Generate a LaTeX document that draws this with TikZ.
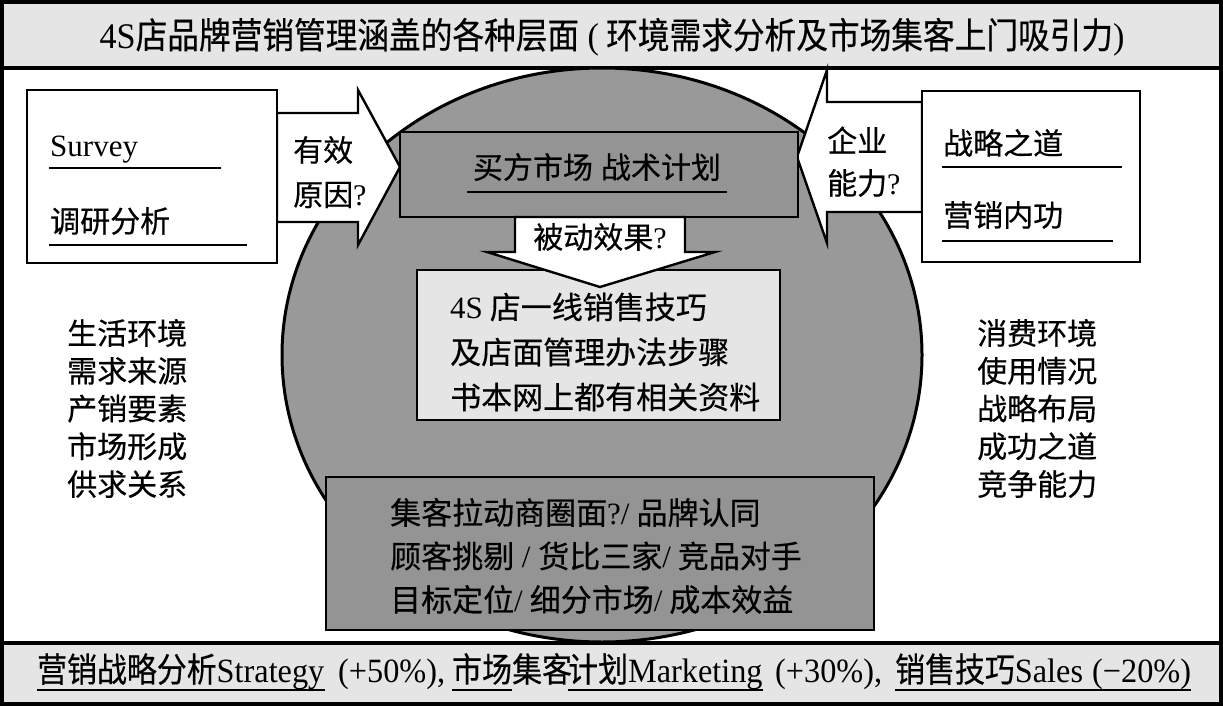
\documentclass[tikz,border=0pt]{standalone}
\usepackage{fontspec}
\setmainfont[FakeBold=0.4]{Noto Sans CJK SC}
\newfontfamily\latf{Liberation Serif}
\newfontfamily\cjkc[FakeStretch=0.88,FakeBold=0.4]{Noto Sans CJK SC}
\newfontfamily\latc[FakeStretch=0.95]{Liberation Serif}
\newcommand\en[1]{{\latf #1}}
\newcommand\enc[1]{{\latc #1}}
\usetikzlibrary{calc,shapes.geometric}
\definecolor{lightbg}{gray}{0.90}
\definecolor{ellgray}{gray}{0.60}
\definecolor{boxgray}{gray}{0.58}
\tikzset{
  frame/.style={draw=black,line width=3.5pt},
  boxline/.style={draw=black,line width=2.6pt,inner sep=0pt},
  uline/.style={draw=black,line width=2.6pt},
  arrowshape/.style={draw=black,fill=white,line width=2.4pt,line join=miter},
  t30/.style={inner sep=0pt,align=left,font=\fontsize{30}{37.75}\selectfont},
  t31/.style={inner sep=0pt,align=left,font=\fontsize{31}{45}\selectfont},
  tb31/.style={inner sep=0pt,align=left,font=\fontsize{31}{43.5}\selectfont},
  tbot/.style={inner sep=0pt,font=\fontsize{34}{40}\cjkc},
}
\begin{document}
\begin{tikzpicture}[x=1pt,y=-1pt]
\useasboundingbox (0,0) rectangle (1223,706);
\fill[white] (0,0) rectangle (1223,706);
% outer frame and title / bottom bands
\draw[frame] (2,2) rectangle (1221,704);
\node[frame,fill=lightbg,minimum width=1219pt,minimum height=66pt,inner sep=0pt] (titlebox) at (611.5,35) {};
\node[inner sep=0pt,font=\fontsize{36}{40}\cjkc] (title) at (612,37)
  {\enc{4S}店品牌营销管理涵盖的各种层面\enc{ (} 环境需求分析及市场集客上门吸引力\enc{)}};
\node[frame,fill=lightbg,minimum width=1219pt,minimum height=61pt,inner sep=0pt] (botband) at (611.5,673.5) {};

% big ellipse
\node[draw=black,line width=3pt,fill=ellgray,ellipse,minimum width=640pt,minimum height=574pt,inner sep=0pt] (ell) at (602,355) {};

% side arrows
\draw[arrowshape] (277,113) -- (358,113) -- (358,90) -- (400,167) -- (358,245) -- (358,222) -- (277,222) -- cycle;
\draw[arrowshape] (922,102) -- (827,102) -- (827,70) -- (797,157) -- (827,243) -- (827,212) -- (922,212) -- cycle;

% left box
\node[boxline,fill=white,minimum width=250pt,minimum height=173pt] (lbox) at (152,176.5) {};
\node[inner sep=0pt,anchor=base west,font=\fontsize{31}{36}\latf] (survey) at (50,157) {Survey};
\draw[uline] (49,168) -- (221,168);
\node[t30,anchor=west] (diaoyan) at (50,221) {调研分析};
\draw[uline] (49,245) -- (247,245);
\node[t30,anchor=west] (youxiao) at (293,150) {有效};
\node[t30,anchor=west] (yuanyin) at (293,195) {原因\en{?}};

% right box
\node[boxline,fill=white,minimum width=218pt,minimum height=171pt] (rbox) at (1031,176.5) {};
\node[t30,anchor=west] (zhanlue) at (943,143) {战略之道};
\draw[uline] (942,167) -- (1122,167);
\node[t30,anchor=west] (neigong) at (943,215) {营销内功};
\draw[uline] (942,241) -- (1113,241);
\node[t30,anchor=west] (qiye) at (827,140) {企业};
\node[t30,anchor=west] (nengli) at (827,183) {能力\en{?}};

% top centre box
\node[boxline,fill=boxgray,minimum width=398pt,minimum height=85pt] (tbox) at (599,174.5) {};
\node[t30] (maifang) at (597,167) {买方市场\hspace{8pt}战术计划};
\draw[uline] (467,192) -- (727,192);

% middle light box
\node[boxline,fill=lightbg,minimum width=363pt,minimum height=150pt] (mbox) at (598.5,345) {};
\node[t31,anchor=west] (mtext) at (450,352)
  {\en{4S} 店一线销售技巧\\及店面管理办法步骤\\书本网上都有相关资料};

% down arrow
\draw[arrowshape] (515,217) -- (515,252) -- (487,252) -- (600,287) -- (715,252) -- (685,252) -- (685,217) -- cycle;
\node[t30] (beidong) at (600,237) {被动效果\en{?}};

% bottom grey box
\node[boxline,fill=boxgray,minimum width=548pt,minimum height=153pt] (bbox) at (600,553.5) {};
\node[tb31,anchor=west] (btext) at (390,556)
  {集客拉动商圈面\en{?/} 品牌认同\\顾客挑剔\en{ / }货比三家\en{/} 竞品对手\\目标定位\en{/} 细分市场\en{/} 成本效益};

% side lists
\node[t30,anchor=west] (leftlist) at (67,408.5)
  {生活环境\\需求来源\\产销要素\\市场形成\\供求关系};
\node[t30,anchor=west] (rightlist) at (977,408.5)
  {消费环境\\使用情况\\战略布局\\成功之道\\竞争能力};

% bottom line
\node[tbot,anchor=base west] (b1) at (37,682) {营销战略分析\enc{Strategy}};
\node[tbot,anchor=base west] (b2) at (338,682) {\enc{(+50\%),}};
\node[tbot,anchor=base west] (b3) at (452,682) {市场};
\node[tbot,anchor=base west] (b4) at (512,682) {集客};
\node[tbot,anchor=base west] (b5) at (568,682) {计划\enc{Marketing}};
\node[tbot,anchor=base west] (b6) at (775,682) {\enc{(+30\%),}};
\node[tbot,anchor=base west] (b7) at (895,682) {销售技巧\enc{Sales}};
\node[tbot,anchor=base west] (b8) at (1092,682) {\enc{(−20\%)}};
\draw[uline] ($(b1.base west)+(0,8)$) -- ($(b1.base east)+(0,8)$);
\draw[uline] ($(b3.base west)+(0,8)$) -- ($(b3.base east)+(0,8)$);
\draw[uline] ($(b5.base west)+(0,8)$) -- ($(b5.base east)+(0,8)$);
\draw[uline] ($(b7.base west)+(0,8)$) -- ($(b8.base east)+(0,8)$);
\end{tikzpicture}
\end{document}
